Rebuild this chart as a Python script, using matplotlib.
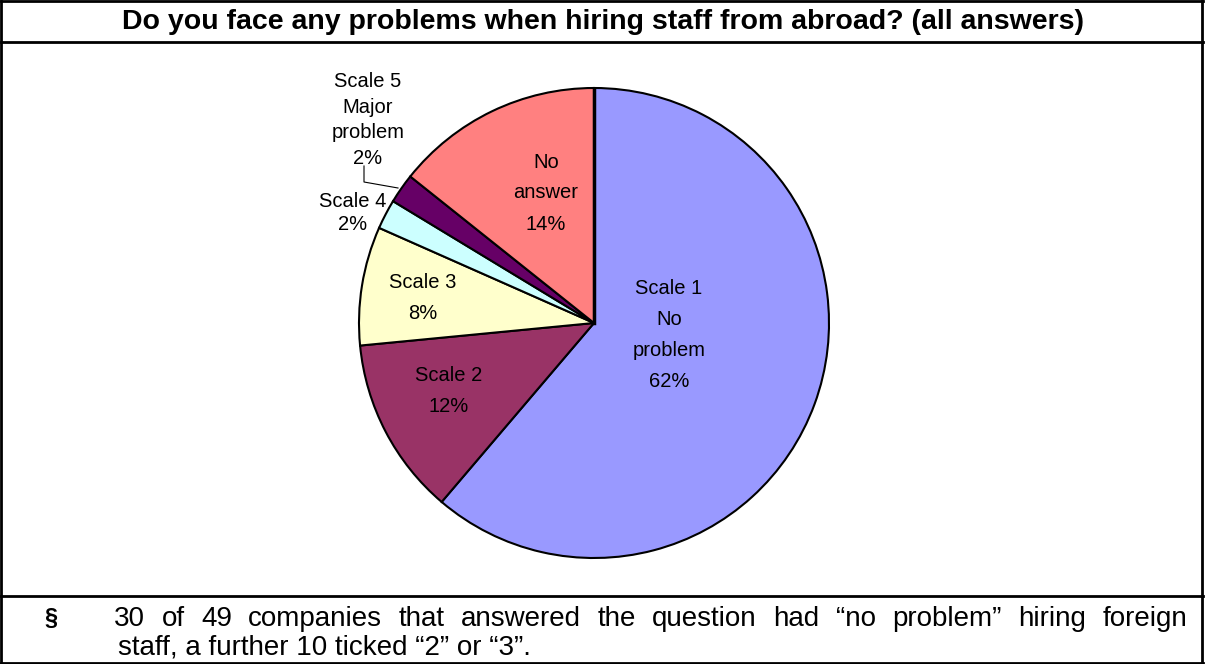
import matplotlib.pyplot as plt
from matplotlib.lines import Line2D

plt.rcParams['font.family'] = ['Liberation Sans', 'DejaVu Sans']

# answers per category (49 companies)
categories = ['Scale 1 No problem', 'Scale 2', 'Scale 3', 'Scale 4', 'Scale 5 Major problem', 'No answer']
counts = [30, 6, 4, 1, 1, 7]
labels = ['Scale 1\nNo\nproblem\n62%', 'Scale 2\n12%', 'Scale 3\n8%',
          'Scale 4\n2%', 'Scale 5\nMajor\nproblem\n2%', 'No\nanswer\n14%']
colors = ['#9999FF', '#993366', '#FFFFCC', '#CCFFFF', '#660066', '#FF8080']

title = 'Do you face any problems when hiring staff from abroad? (all answers)'
note_line1 = '30 of 49 companies that answered the question had \u201cno problem\u201d hiring foreign'
note_line2 = 'staff, a further 10 ticked \u201c2\u201d or \u201c3\u201d.'

W, H = 1205, 664
fig = plt.figure(figsize=(W / 100, H / 100), dpi=100)

# pie axes: centre (594, 323), radius 235 px
cx, cy, r = 594, 323, 235
ax = fig.add_axes([(cx - r) / W, 1 - (cy + r) / H, 2 * r / W, 2 * r / H])
wedges, _ = ax.pie(counts, colors=colors, startangle=90, counterclock=False,
                   wedgeprops=dict(edgecolor='black', linewidth=1.5))
ax.set_xlim(-1, 1)
ax.set_ylim(-1, 1)
ax.set_aspect('auto')
# the thick seam at 12 o'clock
ax.plot([0, 0], [0, 1], color='black', linewidth=2.5)


def px(x, y):
    # pixel coords -> data coords of the pie axes
    return (x - cx) / r, (cy - y) / r


lab_fs = 14.5
inside = {0: (669, 335), 1: (449, 391), 2: (423, 298), 5: (546, 193)}
for i, (x, y) in inside.items():
    ax.text(*px(x, y), labels[i], ha='center', va='center', fontsize=lab_fs, linespacing=1.8)

ax.text(*px(353, 213), labels[3], ha='center', va='center', fontsize=lab_fs, linespacing=1.3)
ax.text(*px(368, 120), labels[4], ha='center', va='center', fontsize=lab_fs, linespacing=1.45)
lx, ly = zip(px(364, 166), px(364, 182), px(398, 188))
ax.plot(lx, ly, color='black', linewidth=0.8, clip_on=False)


# frame
def hline(y, x0=1, x1=W - 2):
    fig.add_artist(Line2D([x0 / W, x1 / W], [1 - y / H, 1 - y / H], color='black', linewidth=2))


def vline(x, y0=1, y1=H - 1):
    fig.add_artist(Line2D([x / W, x / W], [1 - y0 / H, 1 - y1 / H], color='black', linewidth=2))


hline(1)
hline(H - 1)
hline(42)
hline(596)
vline(1)
vline(W - 3)

fig.text((110 + 1097) / 2 / W, 1 - 22 / H, title,
         ha='center', va='center', fontsize=20.5, fontweight='bold')

note_fs = 20
y1, y2 = 619, 647
fig.text(44 / W, 1 - y1 / H, '§', ha='left', va='center', fontsize=17, fontweight='bold')

# first footnote line is justified between x=114 and x=1187
renderer = fig.canvas.get_renderer()
words = note_line1.split(' ')
tmp = [fig.text(0, 0, w, fontsize=note_fs) for w in words]
widths = [t.get_window_extent(renderer).width for t in tmp]
for t in tmp:
    t.remove()
gap = (1187 - 114 - sum(widths)) / (len(words) - 1)
x = 114
for w, wd in zip(words, widths):
    fig.text(x / W, 1 - y1 / H, w, ha='left', va='center', fontsize=note_fs)
    x += wd + gap
fig.text(118 / W, 1 - y2 / H, note_line2, ha='left', va='center', fontsize=note_fs)

fig.savefig('out.png', dpi=100)
